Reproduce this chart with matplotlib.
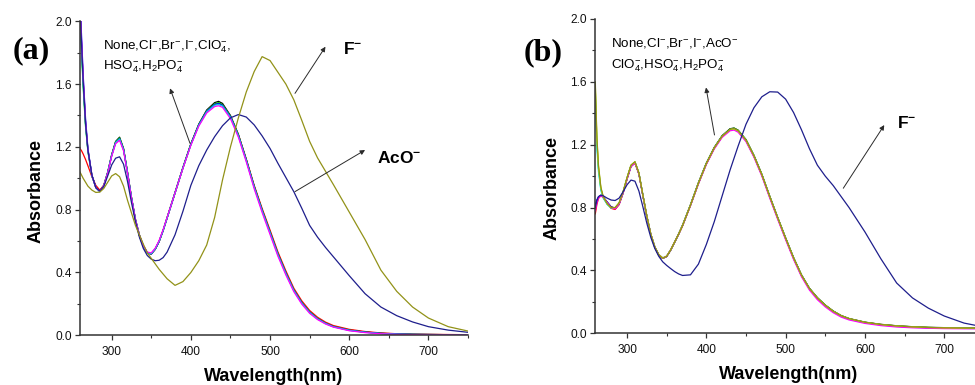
import matplotlib
matplotlib.use("Agg")
import matplotlib.pyplot as plt
from matplotlib.ticker import MultipleLocator

plt.rcParams['font.family'] = ['Liberation Sans', 'DejaVu Sans']
plt.rcParams['mathtext.default'] = 'regular'

# ---------------- data ----------------
wavelength = [260, 262, 264, 267, 270, 275, 280, 285, 290, 295,
              300, 305, 310, 315, 320, 325, 330, 335, 340, 345,
              350, 355, 360, 365, 370, 380, 390, 400, 410, 420,
              430, 435, 440, 450, 460, 470, 480, 490, 500, 510,
              520, 530, 540, 550, 560, 570, 580, 600, 620, 640,
              660, 680, 700, 725, 750]

# panel (a)
a_none = [2.10, 1.85, 1.62, 1.35, 1.18, 1.02, 0.945, 0.92, 0.955, 1.04,
          1.15, 1.235, 1.262, 1.19, 1.04, 0.88, 0.74, 0.64, 0.57, 0.527,
          0.52, 0.55, 0.60, 0.67, 0.75, 0.91, 1.07, 1.22, 1.345, 1.435,
          1.482, 1.49, 1.477, 1.40, 1.28, 1.12, 0.95, 0.80, 0.66, 0.52,
          0.40, 0.29, 0.21, 0.15, 0.108, 0.078, 0.057, 0.034, 0.021, 0.013,
          0.009, 0.006, 0.005, 0.004, 0.003]
a_cl = [1.19, 1.175, 1.155, 1.12, 1.08, 1.01, 0.955, 0.925, 0.955, 1.035,
        1.145, 1.23, 1.252, 1.185, 1.035, 0.875, 0.735, 0.635, 0.565, 0.523,
        0.517, 0.547, 0.597, 0.667, 0.747, 0.905, 1.065, 1.215, 1.34, 1.428,
        1.472, 1.478, 1.468, 1.395, 1.278, 1.122, 0.955, 0.808, 0.67, 0.53,
        0.41, 0.30, 0.22, 0.158, 0.115, 0.084, 0.062, 0.038, 0.024, 0.015,
        0.010, 0.007, 0.006, 0.005, 0.004]
a_br = [2.05, 1.80, 1.58, 1.33, 1.17, 1.015, 0.94, 0.918, 0.953, 1.038,
        1.148, 1.232, 1.258, 1.187, 1.037, 0.877, 0.737, 0.637, 0.567, 0.524,
        0.518, 0.548, 0.598, 0.668, 0.748, 0.908, 1.068, 1.218, 1.342, 1.43,
        1.475, 1.482, 1.47, 1.396, 1.277, 1.118, 0.948, 0.798, 0.658, 0.518,
        0.398, 0.289, 0.209, 0.149, 0.107, 0.077, 0.056, 0.033, 0.02, 0.012,
        0.008, 0.006, 0.005, 0.004, 0.003]
a_i = [2.15, 1.90, 1.66, 1.38, 1.19, 1.02, 0.942, 0.915, 0.95, 1.035,
       1.145, 1.228, 1.252, 1.183, 1.035, 0.876, 0.736, 0.636, 0.566, 0.524,
       0.518, 0.548, 0.598, 0.667, 0.746, 0.906, 1.066, 1.215, 1.34, 1.427,
       1.47, 1.476, 1.465, 1.392, 1.273, 1.115, 0.945, 0.795, 0.655, 0.515,
       0.395, 0.287, 0.207, 0.147, 0.105, 0.076, 0.055, 0.032, 0.02, 0.012,
       0.008, 0.006, 0.005, 0.004, 0.003]
a_clo4 = [2.08, 1.83, 1.60, 1.34, 1.175, 1.015, 0.94, 0.915, 0.95, 1.034,
          1.144, 1.227, 1.25, 1.182, 1.034, 0.876, 0.736, 0.637, 0.567, 0.526,
          0.52, 0.55, 0.6, 0.668, 0.747, 0.906, 1.065, 1.213, 1.337, 1.423,
          1.465, 1.47, 1.46, 1.388, 1.27, 1.112, 0.942, 0.792, 0.652, 0.512,
          0.392, 0.285, 0.205, 0.145, 0.104, 0.075, 0.054, 0.031, 0.019, 0.011,
          0.007, 0.005, 0.004, 0.003, 0.003]
a_hso4 = [2.12, 1.87, 1.64, 1.36, 1.18, 1.018, 0.94, 0.918, 0.952, 1.033,
          1.14, 1.22, 1.242, 1.175, 1.03, 0.874, 0.736, 0.638, 0.57, 0.53,
          0.525, 0.555, 0.605, 0.673, 0.75, 0.907, 1.064, 1.21, 1.332, 1.416,
          1.457, 1.462, 1.452, 1.38, 1.262, 1.104, 0.933, 0.782, 0.642, 0.503,
          0.384, 0.278, 0.199, 0.14, 0.1, 0.072, 0.052, 0.029, 0.017, 0.01,
          0.006, 0.004, 0.003, 0.003, 0.002]
a_aco = [2.10, 1.85, 1.62, 1.35, 1.18, 1.02, 0.94, 0.918, 0.948, 1.015,
         1.085, 1.128, 1.137, 1.09, 0.98, 0.845, 0.725, 0.625, 0.553, 0.508,
         0.485, 0.475, 0.478, 0.495, 0.53, 0.64, 0.79, 0.955, 1.08, 1.18,
         1.265, 1.30, 1.335, 1.385, 1.406, 1.39, 1.34, 1.27, 1.19, 1.095,
         1.005, 0.915, 0.81, 0.70, 0.625, 0.56, 0.50, 0.38, 0.265, 0.18,
         0.125, 0.085, 0.055, 0.033, 0.019]
a_f = [1.04, 1.02, 1.00, 0.975, 0.95, 0.925, 0.91, 0.912, 0.935, 0.975,
       1.015, 1.03, 1.01, 0.95, 0.86, 0.78, 0.70, 0.64, 0.58, 0.525,
       0.49, 0.455, 0.42, 0.39, 0.36, 0.318, 0.342, 0.40, 0.475, 0.575,
       0.75, 0.87, 0.99, 1.2, 1.385, 1.55, 1.68, 1.775, 1.75, 1.675,
       1.60, 1.50, 1.37, 1.235, 1.13, 1.045, 0.96, 0.785, 0.61, 0.415,
       0.28, 0.18, 0.11, 0.055, 0.027]

# panel (b)
b_none = [0.80, 0.84, 0.865, 0.878, 0.868, 0.835, 0.805, 0.797, 0.825, 0.895,
          0.985, 1.065, 1.088, 1.017, 0.878, 0.744, 0.63, 0.55, 0.50, 0.478,
          0.49, 0.53, 0.58, 0.632, 0.688, 0.818, 0.958, 1.083, 1.183, 1.258,
          1.302, 1.306, 1.293, 1.233, 1.133, 1.012, 0.872, 0.737, 0.607, 0.482,
          0.372, 0.287, 0.227, 0.18, 0.142, 0.113, 0.094, 0.071, 0.057, 0.048,
          0.042, 0.038, 0.036, 0.034, 0.033]
b_cl = [0.76, 0.82, 0.858, 0.875, 0.865, 0.83, 0.795, 0.788, 0.818, 0.89,
        0.98, 1.06, 1.083, 1.013, 0.875, 0.742, 0.628, 0.548, 0.498, 0.476,
        0.488, 0.528, 0.578, 0.628, 0.683, 0.813, 0.952, 1.077, 1.177, 1.252,
        1.295, 1.299, 1.286, 1.226, 1.127, 1.007, 0.867, 0.732, 0.602, 0.477,
        0.367, 0.282, 0.222, 0.175, 0.137, 0.109, 0.09, 0.068, 0.054, 0.045,
        0.039, 0.036, 0.034, 0.032, 0.031]
b_br = [1.55, 1.22, 1.05, 0.92, 0.865, 0.822, 0.798, 0.798, 0.828, 0.898,
        0.988, 1.068, 1.09, 1.019, 0.879, 0.745, 0.63, 0.55, 0.50, 0.478,
        0.49, 0.53, 0.58, 0.631, 0.686, 0.816, 0.956, 1.081, 1.181, 1.256,
        1.3, 1.305, 1.292, 1.232, 1.132, 1.011, 0.871, 0.736, 0.606, 0.481,
        0.371, 0.286, 0.226, 0.179, 0.141, 0.112, 0.093, 0.07, 0.056, 0.047,
        0.041, 0.037, 0.035, 0.033, 0.032]
b_i = [0.82, 0.85, 0.868, 0.876, 0.866, 0.834, 0.803, 0.795, 0.823, 0.893,
       0.983, 1.063, 1.086, 1.016, 0.877, 0.743, 0.629, 0.549, 0.499, 0.477,
       0.489, 0.529, 0.579, 0.63, 0.685, 0.815, 0.954, 1.079, 1.179, 1.254,
       1.297, 1.301, 1.288, 1.228, 1.129, 1.009, 0.869, 0.734, 0.604, 0.479,
       0.369, 0.284, 0.224, 0.177, 0.139, 0.111, 0.092, 0.069, 0.055, 0.046,
       0.04, 0.036, 0.034, 0.032, 0.031]
b_aco = [1.50, 1.18, 1.03, 0.91, 0.86, 0.82, 0.797, 0.797, 0.827, 0.896,
         0.986, 1.066, 1.088, 1.018, 0.878, 0.744, 0.63, 0.55, 0.501, 0.479,
         0.491, 0.531, 0.581, 0.631, 0.686, 0.815, 0.954, 1.078, 1.178, 1.252,
         1.294, 1.298, 1.285, 1.226, 1.127, 1.007, 0.867, 0.732, 0.602, 0.477,
         0.367, 0.282, 0.222, 0.175, 0.137, 0.109, 0.09, 0.067, 0.053, 0.044,
         0.038, 0.035, 0.033, 0.031, 0.03]
b_clo4 = [0.78, 0.83, 0.862, 0.876, 0.866, 0.832, 0.8, 0.792, 0.822, 0.892,
          0.982, 1.062, 1.085, 1.015, 0.876, 0.743, 0.63, 0.55, 0.5, 0.479,
          0.491, 0.531, 0.581, 0.63, 0.684, 0.812, 0.95, 1.074, 1.173, 1.247,
          1.289, 1.293, 1.28, 1.22, 1.121, 1.0, 0.86, 0.725, 0.595, 0.47,
          0.36, 0.275, 0.214, 0.168, 0.131, 0.103, 0.085, 0.063, 0.049, 0.04,
          0.035, 0.032, 0.03, 0.029, 0.028]
b_hso4 = [1.58, 1.24, 1.06, 0.925, 0.868, 0.824, 0.8, 0.8, 0.83, 0.9,
          0.99, 1.07, 1.091, 1.02, 0.88, 0.746, 0.631, 0.551, 0.501, 0.479,
          0.491, 0.531, 0.581, 0.631, 0.686, 0.816, 0.955, 1.08, 1.18, 1.254,
          1.297, 1.301, 1.288, 1.229, 1.13, 1.01, 0.87, 0.735, 0.605, 0.48,
          0.37, 0.285, 0.225, 0.178, 0.14, 0.112, 0.093, 0.07, 0.056, 0.047,
          0.041, 0.037, 0.035, 0.033, 0.032]
b_h2po4 = [1.60, 1.25, 1.07, 0.93, 0.87, 0.825, 0.80, 0.80, 0.83, 0.90,
           0.99, 1.07, 1.092, 1.02, 0.88, 0.745, 0.63, 0.55, 0.50, 0.478,
           0.49, 0.53, 0.58, 0.63, 0.685, 0.815, 0.955, 1.08, 1.18, 1.255,
           1.298, 1.303, 1.29, 1.23, 1.13, 1.01, 0.87, 0.735, 0.605, 0.48,
           0.37, 0.285, 0.225, 0.178, 0.14, 0.112, 0.093, 0.07, 0.056, 0.047,
           0.041, 0.037, 0.035, 0.033, 0.032]
b_f = [0.80, 0.845, 0.87, 0.88, 0.875, 0.86, 0.848, 0.845, 0.86, 0.90,
       0.945, 0.975, 0.968, 0.905, 0.805, 0.70, 0.61, 0.54, 0.49, 0.455,
       0.432, 0.412, 0.393, 0.378, 0.368, 0.372, 0.44, 0.565, 0.71, 0.875,
       1.04, 1.115, 1.19, 1.33, 1.435, 1.505, 1.537, 1.535, 1.49, 1.405,
       1.295, 1.175, 1.07, 1.0, 0.94, 0.87, 0.80, 0.645, 0.475, 0.32,
       0.225, 0.16, 0.11, 0.065, 0.04]

x_ticks = [300, 400, 500, 600, 700]
y_ticks = [0.0, 0.4, 0.8, 1.2, 1.6, 2.0]

# ---------------- styling ----------------
BLACK, RED, GREEN, BLUE = '#000000', '#ff0000', '#00cc00', '#0000ff'
CYAN, MAGENTA, YELLOW = '#00dddd', '#ff00ff', '#e6e600'
OLIVE, NAVY = '#929218', '#1e1e8c'
SPINE = '#333333'
LW = 0.9

fig = plt.figure(figsize=(9.75, 3.85), dpi=100)
ax1 = fig.add_axes([0.08205, 0.1291, 0.39795, 0.81558])
ax2 = fig.add_axes([0.61056, 0.13429, 0.39856, 0.81636])

a_series = [(a_none, BLACK), (a_cl, RED), (a_br, GREEN), (a_i, BLUE),
            (a_clo4, CYAN), (a_hso4, MAGENTA), (a_aco, NAVY), (a_f, OLIVE)]
b_series = [(b_none, BLACK), (b_cl, RED), (b_br, GREEN), (b_i, BLUE),
            (b_aco, CYAN), (b_clo4, MAGENTA), (b_hso4, YELLOW), (b_h2po4, OLIVE),
            (b_f, NAVY)]

for ax, series in ((ax1, a_series), (ax2, b_series)):
    for ys, c in series:
        ax.plot(wavelength, ys, color=c, lw=LW, solid_joinstyle='round')
    ax.set_xlim(260, 750)
    ax.set_ylim(0, 2.0)
    ax.set_xticks(x_ticks)
    ax.set_yticks(y_ticks)
    ax.set_yticklabels([f'{v:.1f}' for v in y_ticks])
    ax.xaxis.set_minor_locator(MultipleLocator(50))
    ax.yaxis.set_minor_locator(MultipleLocator(0.2))
    for s in ('top', 'right'):
        ax.spines[s].set_visible(False)
    for s in ('left', 'bottom'):
        ax.spines[s].set_color(SPINE)
        ax.spines[s].set_linewidth(1.1)
    ax.tick_params(which='major', direction='out', length=3.5, width=0.9,
                   color=SPINE, labelsize=8.6, labelcolor='#111111')
    ax.tick_params(which='minor', direction='out', length=2.5, width=0.8,
                   color=SPINE)
    ax.tick_params(axis='x', pad=4.5)
    ax.tick_params(axis='y', pad=2.5)

narrow = ['Liberation Sans Narrow', 'Liberation Sans', 'DejaVu Sans']
arrow_kw = dict(arrowstyle='-|>', color='#2a2a2a', lw=0.7,
                mutation_scale=7, shrinkA=0, shrinkB=0)
TXT = 9.6

# panel (a) annotations
ax1.text(288.7, 1.822, r'None,Cl$^{-}$,Br$^{-}$,I$^{-}$,ClO$_4^{-}$,',
         family=narrow, fontsize=TXT, va='baseline', ha='left')
ax1.text(288.7, 1.69, r'HSO$_4^{-}$,H$_2$PO$_4^{-}$',
         family=narrow, fontsize=TXT, va='baseline', ha='left')
ax1.annotate('', xy=(373.7, 1.573), xytext=(398.9, 1.223), arrowprops=arrow_kw)
ax1.annotate('', xy=(570, 1.838), xytext=(531.5, 1.541), arrowprops=arrow_kw)
ax1.annotate('', xy=(620, 1.18), xytext=(531.5, 0.915), arrowprops=arrow_kw)
ax1.text(591.8, 1.79, r'F$^{-}$', fontsize=12.5, fontweight='bold',
         va='baseline', ha='left')
ax1.text(635.5, 1.096, r'AcO$^{-}$', fontsize=12.5, fontweight='bold',
         va='baseline', ha='left')

# panel (b) annotations
ax2.text(279.8, 1.824, r'None,Cl$^{-}$,Br$^{-}$,I$^{-}$,AcO$^{-}$',
         family=narrow, fontsize=TXT, va='baseline', ha='left')
ax2.text(279.8, 1.686, r'ClO$_4^{-}$,HSO$_4^{-}$,H$_2$PO$_4^{-}$',
         family=narrow, fontsize=TXT, va='baseline', ha='left')
ax2.annotate('', xy=(399.6, 1.564), xytext=(410.3, 1.262), arrowprops=arrow_kw)
ax2.annotate('', xy=(624.4, 1.325), xytext=(572.7, 0.923), arrowprops=arrow_kw)
ax2.text(640, 1.304, r'F$^{-}$', fontsize=12.5, fontweight='bold',
         va='baseline', ha='left')

# axis titles and panel labels
lab_kw = dict(fontsize=13, fontweight='bold')
fig.text(0.0374, 0.5026, 'Absorbance', rotation=90, ha='center', va='center', **lab_kw)
fig.text(0.5667, 0.5117, 'Absorbance', rotation=90, ha='center', va='center', **lab_kw)
fig.text(274 / 975, 1 - 381 / 385, 'Wavelength(nm)', ha='center', va='baseline', **lab_kw)
fig.text(789 / 975, 1 - 379 / 385, 'Wavelength(nm)', ha='center', va='baseline', **lab_kw)

serif = ['Liberation Serif', 'DejaVu Serif']
fig.text(12.7 / 975, 1 - 58.3 / 385, '(a)', family=serif, fontsize=23,
         fontweight='bold', ha='left', va='baseline')
fig.text(523.3 / 975, 1 - 60 / 385, '(b)', family=serif, fontsize=23,
         fontweight='bold', ha='left', va='baseline')

fig.savefig('out.png', dpi=100)
